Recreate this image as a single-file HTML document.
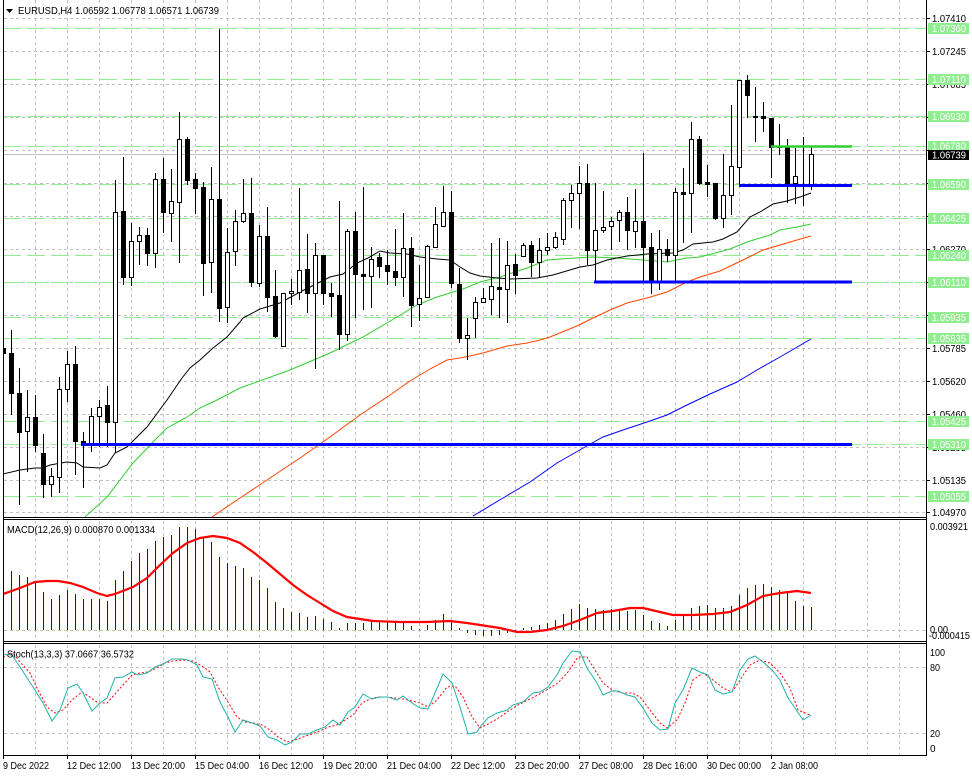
<!DOCTYPE html>
<html><head><meta charset="utf-8"><style>
html,body{margin:0;padding:0;background:#fff;}
svg{display:block;}
text{font-family:"Liberation Sans",sans-serif;}
</style></head><body>
<svg width="972" height="776" viewBox="0 0 972 776" xmlns="http://www.w3.org/2000/svg">
<defs>
<clipPath id="cm"><rect x="4" y="0" width="922" height="517"/></clipPath>
<clipPath id="cd"><rect x="4" y="520" width="922" height="121"/></clipPath>
<clipPath id="cs"><rect x="4" y="644" width="922" height="111"/></clipPath>
</defs>
<rect width="972" height="776" fill="#fff"/>
<!-- vertical grid -->
<g stroke="#c0c0c0" stroke-width="1" stroke-dasharray="3,3" fill="none">
<path d="M35.5 0V517M67.5 0V517M99.5 0V517M131.5 0V517M163.5 0V517M195.5 0V517M227.5 0V517M259.5 0V517M291.5 0V517M323.5 0V517M355.5 0V517M387.5 0V517M419.5 0V517M451.5 0V517M483.5 0V517M515.5 0V517M547.5 0V517M579.5 0V517M611.5 0V517M643.5 0V517M675.5 0V517M707.5 0V517M739.5 0V517M771.5 0V517M803.5 0V517M835.5 0V517M867.5 0V517M899.5 0V517"/>
<path d="M35.5 521V641M67.5 521V641M99.5 521V641M131.5 521V641M163.5 521V641M195.5 521V641M227.5 521V641M259.5 521V641M291.5 521V641M323.5 521V641M355.5 521V641M387.5 521V641M419.5 521V641M451.5 521V641M483.5 521V641M515.5 521V641M547.5 521V641M579.5 521V641M611.5 521V641M643.5 521V641M675.5 521V641M707.5 521V641M739.5 521V641M771.5 521V641M803.5 521V641M835.5 521V641M867.5 521V641M899.5 521V641"/>
<path d="M35.5 645V755M67.5 645V755M99.5 645V755M131.5 645V755M163.5 645V755M195.5 645V755M227.5 645V755M259.5 645V755M291.5 645V755M323.5 645V755M355.5 645V755M387.5 645V755M419.5 645V755M451.5 645V755M483.5 645V755M515.5 645V755M547.5 645V755M579.5 645V755M611.5 645V755M643.5 645V755M675.5 645V755M707.5 645V755M739.5 645V755M771.5 645V755M803.5 645V755M835.5 645V755M867.5 645V755M899.5 645V755"/>
<!-- horizontal grid main -->
<path d="M4 18.5H926M4 51.5H926M4 84.5H926M4 117.5H926M4 150.5H926M4 183.5H926M4 216.5H926M4 249.5H926M4 282.5H926M4 315.5H926M4 348.5H926M4 381.5H926M4 414.5H926M4 447.5H926M4 480.5H926M4 512.5H926"/>
<path d="M4 630.5H928M4 667.5H926M4 733.5H926"/>
</g>
<!-- green dashed levels -->
<g stroke="#90ee90" stroke-width="1" stroke-dasharray="18,6" fill="none">
<path d="M3 28.5H926M3 79.5H926M3 116.5H926M3 146.5H926M3 184.5H926M3 218.5H926M3 255.5H926M3 282.5H926M3 317.5H926M3 338.5H926M3 421.5H926M3 444.5H926M3 496.5H926"/>
</g>
<!-- bid line -->
<path d="M4 154.5H926" stroke="#c0c0c0" stroke-width="1"/>

<g clip-path="url(#cm)">
<!-- moving averages -->
<polyline fill="none" stroke="#0000ff" stroke-width="1" points="473,516 503,498 530,482 557,463 585,447 603,437 623,430 647,422 667,415 687,405 710,394 737,382 757,370 780,357 811,339"/>
<polyline fill="none" stroke="#ff4500" stroke-width="1" points="212,517 240,498 270,478 300,458 330,437 360,415 390,395 410,381 430,369 447,360 460,358 470,356 483,353 507,346 527,343 540,340 550,337 567,330 577,326 593,318 610,310 627,303 647,298 667,292 687,282 700,277 720,271 747,258 763,250 780,245 797,240 811,236"/>
<polyline fill="none" stroke="#32cd32" stroke-width="1" points="85,517 107,497 133,463 153,442 167,428 187,417 200,408 217,400 240,388 290,370 330,353 363,337 397,317 417,305 437,297 463,289 480,282 500,277 527,268 547,260 560,259 593,257 617,258 643,260 667,262 687,258 700,257 730,249 747,242 770,235 780,230 797,227 811,224"/>
<polyline fill="none" stroke="#000" stroke-width="1" points="3,474 20,470 35,468 43,468 50,465 67,462 77,463 83,467 100,468 107,465 115,453 127,447 147,427 167,400 182,378 190,368 200,360 213,348 227,337 240,322 243,318 260,309 280,303 300,292 320,282 330,277 343,274 357,263 368,258 380,251 390,253 407,254 420,257 437,259 450,260 460,267 470,273 480,276 497,278 510,279 537,278 553,275 580,267 593,265 607,260 627,256 647,254 673,253 683,250 693,244 713,242 723,239 737,232 750,217 760,212 773,204 787,201 800,197 811,193"/>
<!-- wicks -->
<path fill="none" stroke="#000" stroke-width="1" d="M3.5 333V375M11.5 330V415M19.5 368V505M27.5 390V472M35.5 395V452M43.5 434V498M51.5 468V497M59.5 377V493M67.5 351V402M75.5 346V475M83.5 432V488M91.5 408V452M99.5 400V447M107.5 386V447M115.5 180V453M123.5 157V285M131.5 223V286M139.5 227V265M147.5 228V266M155.5 173V268M163.5 158V233M171.5 169V242M179.5 112V263M187.5 137V185M195.5 173V214M203.5 182V296M211.5 167V293M219.5 29V322M227.5 228V323M235.5 210V266M243.5 179V223M251.5 178V287M259.5 225V287M267.5 207V312M275.5 270V338M283.5 293V346M291.5 279V305M299.5 188V300M307.5 234V313M315.5 243V369M323.5 255V305M331.5 283V317M339.5 201V350M347.5 229V341M355.5 212V318M363.5 187V310M371.5 247V308M379.5 253V278M387.5 250V285M395.5 229V286M403.5 213V297M411.5 237V327M419.5 265V321M427.5 245V297M435.5 207V248M443.5 186V227M451.5 191V288M459.5 268V343M467.5 318V360M475.5 297V338M483.5 288V303M491.5 243V315M499.5 238V318M507.5 241V323M515.5 254V294M523.5 243V256M531.5 241V277M539.5 238V277M547.5 233V255M555.5 232V249M563.5 198V245M571.5 185V228M579.5 166V229M587.5 164V265M595.5 183V283M603.5 191V233M611.5 217V250M619.5 210V242M627.5 197V250M635.5 189V248M643.5 153V282M651.5 233V294M659.5 230V290M667.5 239V262M675.5 188V282M683.5 168V243M691.5 122V233M699.5 136V185M707.5 165V197M715.5 183V220M723.5 154V228M731.5 105V215M739.5 80V185M747.5 75V118M755.5 87V142M763.5 102V132M771.5 118V178M779.5 124V155M787.5 139V203M795.5 148V204M803.5 137V206M811.5 147V190"/>
<!-- bull bodies -->
<path fill="#fff" stroke="#000" stroke-width="1" d="M25.5 417.5h4v14h-4zM49.5 476.5h4v8h-4zM57.5 389.5h4v88h-4zM65.5 364.5h4v25h-4zM89.5 416.5h4v29h-4zM97.5 407.5h4v9h-4zM113.5 212.5h4v210h-4zM129.5 241.5h4v36h-4zM137.5 235.5h4v6h-4zM153.5 179.5h4v74h-4zM169.5 201.5h4v12h-4zM177.5 139.5h4v63h-4zM209.5 199.5h4v63h-4zM225.5 252.5h4v55h-4zM233.5 221.5h4v30h-4zM241.5 213.5h4v8h-4zM257.5 236.5h4v47h-4zM281.5 293.5h4v53h-4zM289.5 291.5h4v2h-4zM297.5 270.5h4v22h-4zM313.5 255.5h4v38h-4zM345.5 231.5h4v103h-4zM369.5 259.5h4v17h-4zM401.5 248.5h4v29h-4zM417.5 298.5h4v6h-4zM425.5 246.5h4v51h-4zM433.5 224.5h4v23h-4zM441.5 212.5h4v14h-4zM465.5 335.5h4v3h-4zM473.5 302.5h4v16h-4zM481.5 298.5h4v4h-4zM489.5 286.5h4v13h-4zM505.5 265.5h4v24h-4zM521.5 245.5h4v11h-4zM537.5 250.5h4v12h-4zM545.5 247.5h4v3h-4zM553.5 237.5h4v10h-4zM561.5 200.5h4v39h-4zM569.5 193.5h4v7h-4zM577.5 183.5h4v10h-4zM593.5 230.5h4v20h-4zM601.5 227.5h4v3h-4zM609.5 221.5h4v5h-4zM617.5 212.5h4v8h-4zM633.5 221.5h4v10h-4zM657.5 249.5h4v33h-4zM673.5 192.5h4v63h-4zM689.5 139.5h4v54h-4zM721.5 195.5h4v23h-4zM729.5 166.5h4v29h-4zM737.5 80.5h4v87h-4zM793.5 176.5h4v7h-4zM801.5 184.5h4v1h-4zM809.5 154.5h4v31h-4z"/>
<!-- bear bodies -->
<path fill="#000" stroke="#000" stroke-width="1" d="M1.5 348.5h4v5h-4zM9.5 353.5h4v40h-4zM17.5 393.5h4v39h-4zM33.5 417.5h4v28h-4zM41.5 453.5h4v31h-4zM73.5 364.5h4v77h-4zM81.5 441.5h4v4h-4zM105.5 405.5h4v17h-4zM121.5 211.5h4v66h-4zM145.5 235.5h4v18h-4zM161.5 179.5h4v33h-4zM185.5 139.5h4v41h-4zM193.5 179.5h4v9h-4zM201.5 187.5h4v76h-4zM217.5 199.5h4v109h-4zM249.5 213.5h4v69h-4zM265.5 236.5h4v61h-4zM273.5 296.5h4v40h-4zM305.5 269.5h4v24h-4zM321.5 255.5h4v38h-4zM329.5 293.5h4v3h-4zM337.5 295.5h4v39h-4zM353.5 231.5h4v43h-4zM361.5 274.5h4v2h-4zM377.5 257.5h4v9h-4zM385.5 265.5h4v6h-4zM393.5 271.5h4v6h-4zM409.5 248.5h4v57h-4zM449.5 212.5h4v71h-4zM457.5 284.5h4v54h-4zM497.5 287.5h4v2h-4zM513.5 264.5h4v11h-4zM529.5 245.5h4v17h-4zM585.5 183.5h4v67h-4zM625.5 212.5h4v18h-4zM641.5 221.5h4v26h-4zM649.5 247.5h4v35h-4zM665.5 249.5h4v6h-4zM681.5 192.5h4v2h-4zM697.5 139.5h4v44h-4zM705.5 182.5h4v2h-4zM713.5 183.5h4v35h-4zM745.5 80.5h4v15h-4zM753.5 116.5h4v1h-4zM761.5 116.5h4v2h-4zM769.5 118.5h4v29h-4zM777.5 146.5h4v1h-4zM785.5 147.5h4v37h-4z"/>
<!-- thick horizontal lines -->
<path d="M82 444.5H852M594 282H852M739 185.5H852" stroke="#0000ff" stroke-width="3" fill="none"/>
<path d="M771 146.5H852" stroke="#32cd32" stroke-width="2.5" fill="none"/>
</g>

<!-- MACD -->
<g clip-path="url(#cd)">
<path fill="none" stroke="#0000ff" stroke-width="1" d="M3.5 630V571M11.5 630V571M19.5 630V575M27.5 630V577M35.5 630V582M43.5 630V592M51.5 630V599M59.5 630V595M67.5 630V590M75.5 630V594M83.5 630V599M91.5 630V599M99.5 630V599M107.5 630V601M115.5 630V580M123.5 630V571M131.5 630V561M139.5 630V553M147.5 630V549M155.5 630V541M163.5 630V537M171.5 630V535M179.5 630V527M187.5 630V527M195.5 630V529M203.5 630V538M211.5 630V542M219.5 630V557M227.5 630V563M235.5 630V566M243.5 630V568M251.5 630V577M259.5 630V580M267.5 630V588M275.5 630V602M283.5 630V608M291.5 630V612M299.5 630V613M307.5 630V617M315.5 630V616M323.5 630V619M331.5 630V622M339.5 630V628M347.5 630V623M355.5 630V623M363.5 630V623M371.5 630V622M379.5 630V622M387.5 630V622M395.5 630V622M403.5 630V622M411.5 630V626M419.5 630V629M427.5 630V625M435.5 630V620M443.5 630V614M451.5 630V620M459.5 630V628M467.5 630V633M475.5 630V635M483.5 630V636M491.5 630V636M499.5 630V635M507.5 630V633M515.5 630V632M523.5 630V628M531.5 630V627M539.5 630V625M547.5 630V623M555.5 630V620M563.5 630V614M571.5 630V609M579.5 630V604M587.5 630V608M595.5 630V609M603.5 630V610M611.5 630V609M619.5 630V610M627.5 630V611M635.5 630V610M643.5 630V615M651.5 630V621M659.5 630V623M667.5 630V626M675.5 630V620M683.5 630V616M691.5 630V608M699.5 630V606M707.5 630V605M715.5 630V608M723.5 630V608M731.5 630V606M739.5 630V595M747.5 630V588M755.5 630V585M763.5 630V584M771.5 630V587M779.5 630V590M787.5 630V592M795.5 630V601M803.5 630V606M811.5 630V607"/>
<polyline fill="none" stroke="#ff0000" stroke-width="2.2" points="3,594 20,588 35,582 47,581 58,581 70,583 83,587 97,593 107,596 115,594 133,587 147,578 160,565 173,553 187,543 200,538 213,536 227,538 240,543 253,552 267,563 280,574 293,585 307,595 320,603 333,611 347,617 360,619 373,621 400,622 427,622 450,621 467,623 480,625 500,628 517,632 530,632 547,630 563,626 580,620 597,613 613,611 630,608 643,608 660,612 673,615 693,615 713,614 730,612 747,605 763,596 780,593 797,591 811,593"/>
</g>

<!-- Stochastic -->
<g clip-path="url(#cs)">
<polyline fill="none" stroke="#ff0000" stroke-width="1" stroke-dasharray="2,2" points="3,657 13,653 20,662 30,673 38,690 47,707 55,713 63,710 72,700 82,692 90,697 98,703 107,703 115,694 123,685 132,675 140,673 148,672 157,668 165,663 173,661 183,660 193,661 202,666 210,672 218,687 228,702 237,717 245,722 253,723 262,725 270,730 278,737 287,742 295,740 303,737 312,734 320,731 328,727 337,725 345,720 353,715 362,703 370,699 378,697 387,697 395,698 403,699 412,701 420,703 428,707 437,700 447,687 455,686 463,697 472,717 480,728 490,723 500,717 510,710 518,705 528,700 538,695 548,689 558,683 568,672 578,657 587,657 595,670 603,683 612,690 622,693 632,693 640,697 650,710 660,723 667,728 677,720 685,703 693,680 703,673 713,680 723,688 732,692 740,680 750,665 760,660 770,663 780,673 790,688 798,710 810,715"/>
<polyline fill="none" stroke="#20b2aa" stroke-width="1" points="3,654 12,655 20,667 33,687 43,703 52,721 60,710 68,688 77,684 83,693 92,711 100,703 107,698 115,678 123,677 132,672 138,675 147,673 155,667 163,664 172,659 182,659 188,660 197,665 203,677 212,679 220,702 228,717 235,732 243,720 252,723 260,726 268,737 277,740 285,745 292,742 300,734 308,734 317,730 325,727 333,720 340,725 348,712 355,707 363,694 372,699 380,697 388,697 397,700 403,696 412,703 420,708 428,709 435,693 443,674 452,683 460,707 468,734 477,732 480,727 488,718 497,713 507,710 513,705 523,702 533,693 540,692 548,687 557,675 563,663 572,651 580,652 587,668 597,683 603,695 612,691 618,691 627,695 635,697 643,708 652,723 660,730 668,729 675,703 683,690 692,668 700,672 708,675 715,690 723,694 732,692 740,670 748,659 755,656 763,662 772,670 780,680 788,698 795,708 803,720 811,715"/>
</g>

<!-- frames -->
<g stroke="#000" stroke-width="1" fill="none">
<path d="M3.5 0V756M926.5 0V756M3 517.5H927M3 519.5H927M3 641.5H927M3 643.5H927M3 755.5H927"/>
<path d="M927 18.5h3M927 51.5h3M927 84.5h3M927 117.5h3M927 150.5h3M927 183.5h3M927 216.5h3M927 249.5h3M927 282.5h3M927 315.5h3M927 348.5h3M927 381.5h3M927 414.5h3M927 447.5h3M927 480.5h3M927 512.5h3"/>
<path d="M3.5 756v3M67.5 756v3M131.5 756v3M195.5 756v3M259.5 756v3M323.5 756v3M387.5 756v3M451.5 756v3M515.5 756v3M579.5 756v3M643.5 756v3M707.5 756v3M771.5 756v3"/>
</g>

<!-- header -->
<polygon points="6,9 13,9 9.5,13" fill="#000"/>
<text x="18" y="14" font-size="10.5" textLength="201" lengthAdjust="spacingAndGlyphs" fill="#000">EURUSD,H4  1.06592 1.06778 1.06571 1.06739</text>
<text x="7" y="533" font-size="10.5" textLength="148" lengthAdjust="spacingAndGlyphs" fill="#000">MACD(12,26,9) 0.000870 0.001334</text>
<text x="7" y="657.5" font-size="10.5" textLength="127" lengthAdjust="spacingAndGlyphs" fill="#000">Stoch(13,3,3) 37.0667 36.5732</text>

<!-- right axis labels -->
<g font-size="10" fill="#000">
<text x="932" y="22" textLength="34" lengthAdjust="spacingAndGlyphs">1.07410</text>
<text x="932" y="55" textLength="34" lengthAdjust="spacingAndGlyphs">1.07245</text>
<text x="932" y="88" textLength="34" lengthAdjust="spacingAndGlyphs">1.07085</text>
<text x="932" y="121" textLength="34" lengthAdjust="spacingAndGlyphs">1.06920</text>
<text x="932" y="154" textLength="34" lengthAdjust="spacingAndGlyphs">1.06760</text>
<text x="932" y="187" textLength="34" lengthAdjust="spacingAndGlyphs">1.06595</text>
<text x="932" y="220" textLength="34" lengthAdjust="spacingAndGlyphs">1.06435</text>
<text x="932" y="253" textLength="34" lengthAdjust="spacingAndGlyphs">1.06270</text>
<text x="932" y="286" textLength="34" lengthAdjust="spacingAndGlyphs">1.06110</text>
<text x="932" y="319" textLength="34" lengthAdjust="spacingAndGlyphs">1.05945</text>
<text x="932" y="352" textLength="34" lengthAdjust="spacingAndGlyphs">1.05785</text>
<text x="932" y="385" textLength="34" lengthAdjust="spacingAndGlyphs">1.05620</text>
<text x="932" y="418" textLength="34" lengthAdjust="spacingAndGlyphs">1.05460</text>
<text x="932" y="451" textLength="34" lengthAdjust="spacingAndGlyphs">1.05295</text>
<text x="932" y="484" textLength="34" lengthAdjust="spacingAndGlyphs">1.05135</text>
<text x="932" y="516" textLength="34" lengthAdjust="spacingAndGlyphs">1.04970</text>
</g>
<!-- green level boxes -->
<g fill="#90ee90">
<rect x="928" y="23" width="41" height="11"/>
<rect x="928" y="74" width="41" height="11"/>
<rect x="928" y="111" width="41" height="11"/>
<rect x="928" y="141" width="41" height="10"/>
<rect x="928" y="179" width="41" height="11"/>
<rect x="928" y="213" width="41" height="11"/>
<rect x="928" y="250" width="41" height="11"/>
<rect x="928" y="277" width="41" height="11"/>
<rect x="928" y="312" width="41" height="11"/>
<rect x="928" y="333" width="41" height="11"/>
<rect x="928" y="416" width="41" height="11"/>
<rect x="928" y="439" width="41" height="11"/>
<rect x="928" y="491" width="41" height="11"/>
</g>
<rect x="928" y="150" width="41" height="10" fill="#000"/>
<g font-size="10" fill="#fff">
<text x="932" y="32" textLength="34" lengthAdjust="spacingAndGlyphs">1.07360</text>
<text x="932" y="83" textLength="34" lengthAdjust="spacingAndGlyphs">1.07110</text>
<text x="932" y="120" textLength="34" lengthAdjust="spacingAndGlyphs">1.06930</text>
<text x="932" y="149.5" textLength="34" lengthAdjust="spacingAndGlyphs">1.06780</text>
<text x="932" y="158.5" textLength="34" lengthAdjust="spacingAndGlyphs">1.06739</text>
<text x="932" y="188" textLength="34" lengthAdjust="spacingAndGlyphs">1.06590</text>
<text x="932" y="222" textLength="34" lengthAdjust="spacingAndGlyphs">1.06425</text>
<text x="932" y="259" textLength="34" lengthAdjust="spacingAndGlyphs">1.06240</text>
<text x="932" y="286" textLength="34" lengthAdjust="spacingAndGlyphs">1.06110</text>
<text x="932" y="321" textLength="34" lengthAdjust="spacingAndGlyphs">1.05935</text>
<text x="932" y="342" textLength="34" lengthAdjust="spacingAndGlyphs">1.05835</text>
<text x="932" y="425" textLength="34" lengthAdjust="spacingAndGlyphs">1.05425</text>
<text x="932" y="448" textLength="34" lengthAdjust="spacingAndGlyphs">1.05310</text>
<text x="932" y="500" textLength="34" lengthAdjust="spacingAndGlyphs">1.05055</text>
</g>
<!-- MACD / stoch axis labels -->
<g font-size="10" fill="#000">
<text x="930" y="530" textLength="38" lengthAdjust="spacingAndGlyphs">0.003921</text>
<text x="930" y="633" textLength="18" lengthAdjust="spacingAndGlyphs">0.00</text>
<text x="929" y="639" textLength="41" lengthAdjust="spacingAndGlyphs">-0.000415</text>
<text x="930" y="656" textLength="15" lengthAdjust="spacingAndGlyphs">100</text>
<text x="930" y="671" textLength="10" lengthAdjust="spacingAndGlyphs">80</text>
<text x="930" y="737" textLength="10" lengthAdjust="spacingAndGlyphs">20</text>
<text x="930" y="752">0</text>
</g>
<!-- date labels -->
<g font-size="10" fill="#000">
<text x="3" y="769" textLength="46" lengthAdjust="spacingAndGlyphs">9 Dec 2022</text>
<text x="67" y="769" textLength="54" lengthAdjust="spacingAndGlyphs">12 Dec 12:00</text>
<text x="131" y="769" textLength="54" lengthAdjust="spacingAndGlyphs">13 Dec 20:00</text>
<text x="195" y="769" textLength="54" lengthAdjust="spacingAndGlyphs">15 Dec 04:00</text>
<text x="259" y="769" textLength="54" lengthAdjust="spacingAndGlyphs">16 Dec 12:00</text>
<text x="323" y="769" textLength="54" lengthAdjust="spacingAndGlyphs">19 Dec 20:00</text>
<text x="387" y="769" textLength="54" lengthAdjust="spacingAndGlyphs">21 Dec 04:00</text>
<text x="451" y="769" textLength="54" lengthAdjust="spacingAndGlyphs">22 Dec 12:00</text>
<text x="515" y="769" textLength="54" lengthAdjust="spacingAndGlyphs">23 Dec 20:00</text>
<text x="579" y="769" textLength="54" lengthAdjust="spacingAndGlyphs">27 Dec 08:00</text>
<text x="643" y="769" textLength="54" lengthAdjust="spacingAndGlyphs">28 Dec 16:00</text>
<text x="707" y="769" textLength="54" lengthAdjust="spacingAndGlyphs">30 Dec 00:00</text>
<text x="771" y="769" textLength="47" lengthAdjust="spacingAndGlyphs">2 Jan 08:00</text>
</g>
</svg>
</body></html>
